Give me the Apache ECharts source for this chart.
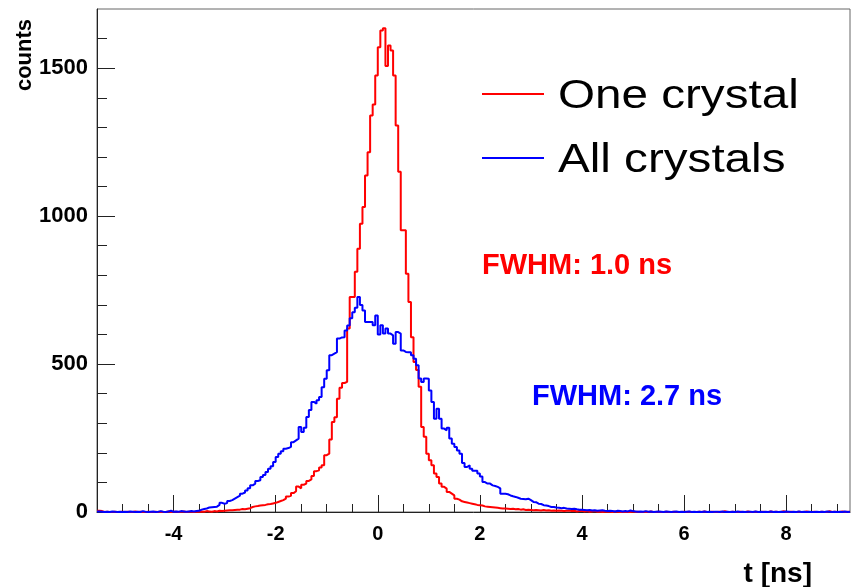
<!DOCTYPE html>
<html>
<head>
<meta charset="utf-8">
<script src="https://cdn.jsdelivr.net/npm/echarts@6/dist/echarts.min.js"></script>
<style>
  html, body { margin: 0; padding: 0; background: #fff; }
  #chart { width: 855px; height: 587px; }
</style>
</head>
<body>
<div id="chart"></div>
<script>
// Time-difference histograms, 0.05 ns bins starting at -5.5 ns
const binStart = -5.5;
const binWidth = 0.05;

// counts per bin, single crystal
const oneCrystal = [
  4,3,0,1,0,0,1,0,0,1,
  0,1,0,0,2,0,1,0,0,1,
  0,0,1,0,1,0,0,2,0,1,
  1,0,1,2,0,1,1,0,2,1,
  2,1,3,2,1,3,2,4,3,4,
  5,6,6,7,8,8,10,9,11,13,
  17,19,20,22,23,24,26,27,29,31,
  34,37,40,45,52,55,64,70,86,80,
  92,96,105,110,122,138,141,150,158,192,
  197,245,304,320,383,420,436,440,620,727,
  727,812,890,974,1031,1137,1216,1340,1377,1475,
  1571,1627,1635,1507,1577,1560,1475,1306,1150,952,
  952,805,710,591,507,480,423,287,254,197,
  175,158,130,118,96,85,79,68,62,56,
  45,42,36,34,32,30,28,26,24,23,
  22,19,18,17,16,15,14,13,12,12,
  11,10,11,9,10,8,9,7,8,7,
  6,7,6,5,7,5,6,4,5,4,
  5,4,3,4,5,3,4,2,3,4,
  2,3,1,2,3,1,2,0,1,2,
  1,0,2,1,0,1,0,1,0,2,
  0,1,0,0,1,0,2,0,0,1,
  0,0,1,0,0,1,0,0,0,1,
  0,1,0,0,0,1,0,2,0,0,
  1,0,0,1,0,3,0,0,1,0,
  0,1,0,0,2,0,0,1,0,0,
  1,0,0,2,0,1,0,0,3,0,
  0,1,0,0,1,0,0,2,0,0,
  1,0,0,1,0,0,3,0,1,0,
  0,2,0,1,0
];

// counts per bin, all crystals combined
const allCrystals = [
  2,1,0,1,0,2,1,0,1,0,
  1,0,2,1,0,1,0,3,1,0,
  1,2,0,1,3,1,0,2,4,1,
  2,1,3,2,1,2,3,2,3,4,
  8,10,12,15,16,17,18,24,31,28,
  30,37,40,45,50,55,62,66,73,80,
  90,96,105,107,118,125,135,146,155,169,
  186,197,205,214,216,220,236,242,248,287,
  270,285,321,345,372,366,378,389,422,450,
  479,530,535,540,586,590,591,613,630,655,
  675,690,727,700,681,642,642,642,631,664,
  600,631,603,620,603,597,569,608,603,546,
  541,540,540,530,518,496,451,439,451,450,
  411,372,315,349,315,282,276,285,248,231,
  220,208,197,166,152,158,146,139,139,130,
  120,101,96,96,90,88,85,80,62,62,
  60,56,53,51,48,45,44,43,45,40,
  34,33,28,27,23,22,20,17,17,15,
  14,13,14,12,11,10,11,9,8,8,
  7,6,7,5,6,4,5,6,4,3,
  4,3,2,4,3,2,3,2,5,3,
  2,1,2,1,3,1,2,0,1,2,
  1,0,2,1,0,1,2,0,1,0,
  1,2,0,1,0,1,0,2,0,1,
  0,1,1,0,2,0,1,0,1,0,
  2,0,1,0,1,1,0,2,0,1,
  0,1,0,2,0,1,0,1,0,2,
  1,0,1,0,2,0,1,0,1,0,
  0,1,0,1,0,2,1,0,1,0,
  1,0,2,0,1
];

const xRange = [-5.5, 9.25];
const yRange = [0, 1700];
const xMajorTicks = [-4, -2, 0, 2, 4, 6, 8];
const xMinorTicks = [-5, -4.5, -3.5, -3, -2.5, -1.5, -1, -0.5, 0.5, 1, 1.5, 2.5, 3, 3.5,
                     4.5, 5, 5.5, 6.5, 7, 7.5, 8.5, 9];
const yMajorTicks = [0, 500, 1000, 1500];
const yMinorTicks = [100, 200, 300, 400, 600, 700, 800, 900, 1100, 1200, 1300, 1400, 1600];

const seriesNames = ['One crystal', 'All crystals'];
const seriesColors = ['#ff0000', '#0000ff'];

// histogram outline: one point per left bin edge, plus the closing right edge
function stepPoints(counts) {
  const pts = counts.map((c, i) => [+(binStart + i * binWidth).toFixed(4), c]);
  pts.push([+(binStart + counts.length * binWidth).toFixed(4), counts[counts.length - 1]]);
  return pts;
}

const FONT = "'Liberation Sans', Arial, Helvetica, sans-serif";
const axisColor = '#222';
const plainNumber = v => String(v);

// legend box: sample line followed by the series name, one row per series
const legendLeft = 482, legendTop = 94, legendRow = 64;
const legendItems = [];
seriesNames.forEach((name, i) => {
  const y = legendTop + i * legendRow;
  legendItems.push({
    type: 'line', shape: { x1: legendLeft, y1: y, x2: legendLeft + 62, y2: y },
    style: { stroke: seriesColors[i], lineWidth: 2 }
  });
  legendItems.push({
    type: 'text', x: legendLeft + 76, y: y + 3, scaleX: 1.19,
    style: { text: name, fontFamily: FONT, fontSize: 40, fill: '#000',
             align: 'left', verticalAlign: 'middle' }
  });
});

const chart = echarts.init(document.getElementById('chart'), null, { renderer: 'canvas' });

chart.setOption({
  animation: false,
  backgroundColor: '#ffffff',
  grid: {
    left: 97, right: 5, top: 9, bottom: 75,
    show: true, borderColor: '#666', borderWidth: 1,
    containLabel: false, outerBoundsMode: 'none'
  },
  xAxis: [
    {
      type: 'value', min: xRange[0], max: xRange[1], position: 'bottom',
      axisLine: { show: true, onZero: false, lineStyle: { color: axisColor, width: 1 } },
      axisTick: { show: true, inside: true, length: 17, customValues: xMajorTicks, lineStyle: { color: axisColor } },
      axisLabel: {
        customValues: xMajorTicks, margin: 12, color: '#000', formatter: plainNumber,
        fontFamily: FONT, fontWeight: 'bold', fontSize: 20
      },
      splitLine: { show: false }
    },
    {
      type: 'value', min: xRange[0], max: xRange[1], position: 'bottom',
      axisLine: { show: false, onZero: false },
      axisTick: { show: true, inside: true, length: 8, customValues: xMinorTicks, lineStyle: { color: axisColor } },
      axisLabel: { show: false },
      splitLine: { show: false }
    }
  ],
  yAxis: [
    {
      type: 'value', min: yRange[0], max: yRange[1], position: 'left',
      axisLine: { show: true, onZero: false, lineStyle: { color: axisColor, width: 1 } },
      axisTick: { show: true, inside: true, length: 18, customValues: yMajorTicks, lineStyle: { color: axisColor } },
      axisLabel: {
        customValues: yMajorTicks, margin: 9, color: '#000', formatter: plainNumber,
        fontFamily: FONT, fontWeight: 'bold', fontSize: 22
      },
      splitLine: { show: false }
    },
    {
      type: 'value', min: yRange[0], max: yRange[1], position: 'left',
      axisLine: { show: false, onZero: false },
      axisTick: { show: true, inside: true, length: 10, customValues: yMinorTicks, lineStyle: { color: axisColor } },
      axisLabel: { show: false },
      splitLine: { show: false }
    }
  ],
  series: [
    {
      name: seriesNames[0], type: 'line', step: 'end',
      data: stepPoints(oneCrystal),
      showSymbol: false, symbol: 'none',
      color: seriesColors[0],
      lineStyle: { color: seriesColors[0], width: 2 },
      z: 3
    },
    {
      name: seriesNames[1], type: 'line', step: 'end',
      data: stepPoints(allCrystals),
      showSymbol: false, symbol: 'none',
      color: seriesColors[1],
      lineStyle: { color: seriesColors[1], width: 2 },
      z: 4
    }
  ],
  graphic: [
    {
      type: 'text', x: 25, y: 55, rotation: Math.PI / 2,
      style: { text: 'counts', fontFamily: FONT, fontWeight: 'bold', fontSize: 22,
               fill: '#000', align: 'center', verticalAlign: 'middle' }
    },
    {
      type: 'text', x: 812, y: 574,
      style: { text: 't [ns]', fontFamily: FONT, fontWeight: 'bold', fontSize: 28,
               fill: '#000', align: 'right', verticalAlign: 'middle' }
    },
    {
      type: 'text', x: 482, y: 266,
      style: { text: 'FWHM: 1.0 ns', fontFamily: FONT, fontWeight: 'bold', fontSize: 29,
               fill: seriesColors[0], align: 'left', verticalAlign: 'middle' }
    },
    {
      type: 'text', x: 532, y: 397,
      style: { text: 'FWHM: 2.7 ns', fontFamily: FONT, fontWeight: 'bold', fontSize: 29,
               fill: seriesColors[1], align: 'left', verticalAlign: 'middle' }
    }
  ].concat(legendItems)
});
</script>
</body>
</html>
